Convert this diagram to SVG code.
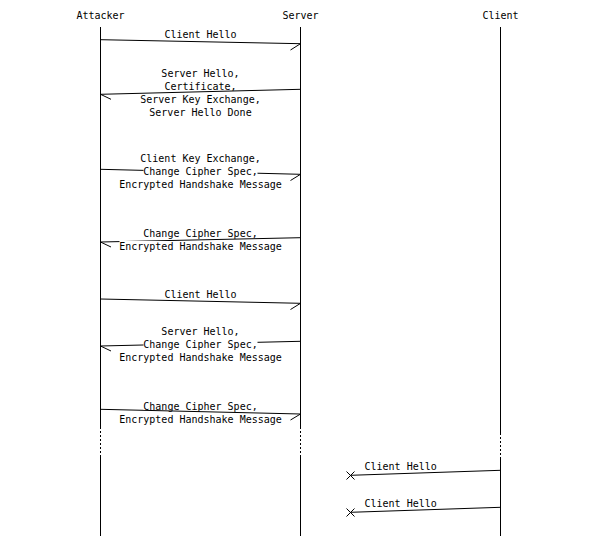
<svg xmlns="http://www.w3.org/2000/svg" width="600" height="536" viewBox="0 0 600 536">
<style>
text{font-family:"DejaVu Sans Mono","Liberation Mono",monospace;font-size:10px;fill:#000}
.c{text-anchor:middle}
.ll{stroke:#000;stroke-width:1;fill:none}
.dot{stroke:#000;stroke-width:1;stroke-dasharray:2,2;fill:none}
.m{stroke:#000;stroke-width:1;fill:none}
.bg{fill:#fff}
</style>
<rect width="600" height="536" fill="#fff"/>
<g id="attacker">
<text class="c" x="100.5" y="19">Attacker</text>
<line class="ll" x1="100.5" y1="27" x2="100.5" y2="427"/>
<line class="dot" x1="100.5" y1="427" x2="100.5" y2="457"/>
<line class="ll" x1="100.5" y1="457" x2="100.5" y2="536"/>
</g>
<g id="server">
<text class="c" x="300.5" y="19">Server</text>
<line class="ll" x1="300.5" y1="27" x2="300.5" y2="427"/>
<line class="dot" x1="300.5" y1="427" x2="300.5" y2="457"/>
<line class="ll" x1="300.5" y1="457" x2="300.5" y2="536"/>
</g>
<g id="client">
<text class="c" x="500.5" y="19">Client</text>
<line class="ll" x1="500.5" y1="27" x2="500.5" y2="433"/>
<line class="dot" x1="500.5" y1="433" x2="500.5" y2="457"/>
<line class="ll" x1="500.5" y1="457" x2="500.5" y2="536"/>
</g>
<g id="connectors">
<g id="m1">
<line class="m" x1="100.5" y1="39.7" x2="300.5" y2="43.7"/>
<line class="m" x1="300.5" y1="43.7" x2="290.5" y2="50"/>
<text class="c" x="200.5" y="38">Client Hello</text>
</g>
<g id="m2">
<line class="m" x1="300.5" y1="89.3" x2="100.5" y2="94.3"/>
<line class="m" x1="100.5" y1="94.3" x2="111" y2="99.3"/>
<rect class="bg" x="161.5" y="68.5" width="78" height="8.5"/>
<text class="c" x="200.5" y="77">Server Hello,</text>
<rect class="bg" x="164.5" y="81.5" width="72" height="8.5"/>
<text class="c" x="200.5" y="90">Certificate,</text>
<rect class="bg" x="140.5" y="94.5" width="120" height="8.5"/>
<text class="c" x="200.5" y="103">Server Key Exchange,</text>
<rect class="bg" x="149.5" y="107.5" width="102" height="8.5"/>
<text class="c" x="200.5" y="116">Server Hello Done</text>
</g>
<g id="m3">
<line class="m" x1="100.5" y1="169.3" x2="300.5" y2="174.3"/>
<line class="m" x1="300.5" y1="174.3" x2="290.5" y2="180.5"/>
<rect class="bg" x="140.5" y="153.5" width="120" height="8.5"/>
<text class="c" x="200.5" y="162">Client Key Exchange,</text>
<rect class="bg" x="143.5" y="166.5" width="114" height="8.5"/>
<text class="c" x="200.5" y="175">Change Cipher Spec,</text>
<rect class="bg" x="119.5" y="179.5" width="162" height="8.5"/>
<text class="c" x="200.5" y="188">Encrypted Handshake Message</text>
</g>
<g id="m4">
<line class="m" x1="300.5" y1="237.7" x2="100.5" y2="242"/>
<line class="m" x1="100.5" y1="242" x2="111" y2="247"/>
<rect class="bg" x="143.5" y="228" width="114" height="8.5"/>
<text class="c" x="200.5" y="236.5">Change Cipher Spec,</text>
<rect class="bg" x="119.5" y="241" width="162" height="8.5"/>
<text class="c" x="200.5" y="249.5">Encrypted Handshake Message</text>
</g>
<g id="m5">
<line class="m" x1="100.5" y1="299" x2="300.5" y2="303.3"/>
<line class="m" x1="300.5" y1="303.3" x2="290.5" y2="309.5"/>
<text class="c" x="200.5" y="298">Client Hello</text>
</g>
<g id="m6">
<line class="m" x1="300.5" y1="341.3" x2="100.5" y2="346"/>
<line class="m" x1="100.5" y1="346" x2="111" y2="351"/>
<rect class="bg" x="161.5" y="326.5" width="78" height="8.5"/>
<text class="c" x="200.5" y="335">Server Hello,</text>
<rect class="bg" x="143.5" y="339.5" width="114" height="8.5"/>
<text class="c" x="200.5" y="348">Change Cipher Spec,</text>
<rect class="bg" x="119.5" y="352.5" width="162" height="8.5"/>
<text class="c" x="200.5" y="361">Encrypted Handshake Message</text>
</g>
<g id="m7">
<line class="m" x1="100.5" y1="409.3" x2="300.5" y2="414"/>
<line class="m" x1="300.5" y1="414" x2="290.5" y2="420"/>
<rect class="bg" x="143.5" y="401.5" width="114" height="8.5"/>
<text class="c" x="200.5" y="410">Change Cipher Spec,</text>
<rect class="bg" x="119.5" y="414.5" width="162" height="8.5"/>
<text class="c" x="200.5" y="423">Encrypted Handshake Message</text>
</g>
<g id="m8">
<line class="m" x1="500.5" y1="470.3" x2="350.5" y2="475.3"/>
<path class="m" d="M346.5 471.5L354.5 479.5M346.5 479.5L354.5 471.5"/>
<text x="364.5" y="469.5">Client Hello</text>
</g>
<g id="m9">
<line class="m" x1="500.5" y1="507.3" x2="350.5" y2="512.3"/>
<path class="m" d="M346.5 508.5L354.5 516.5M346.5 516.5L354.5 508.5"/>
<text x="364.5" y="506.5">Client Hello</text>
</g>
</g>
</svg>
